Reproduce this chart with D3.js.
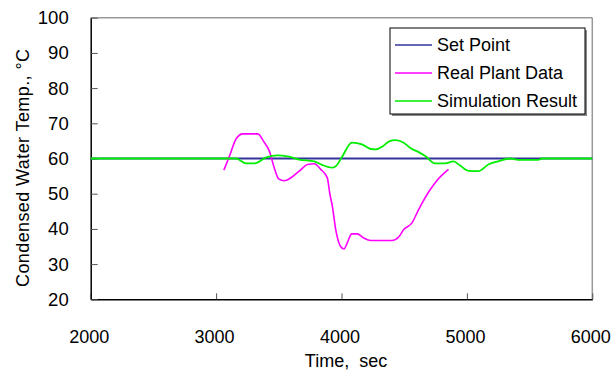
<!DOCTYPE html>
<html>
<head>
<meta charset="utf-8">
<script src="https://cdn.jsdelivr.net/npm/d3@7"></script>
<style>
  body { margin: 0; background: #fff; }
  text { font-family: "Liberation Sans", Arial, sans-serif; fill: #000; }
</style>
</head>
<body>
<svg width="612" height="370"></svg>
<script>
// data
const xTicks = [2000, 3000, 4000, 5000, 6000];
const yTicks = [20, 30, 40, 50, 60, 70, 80, 90, 100];

const seriesNames = ['Set Point', 'Real Plant Data', 'Simulation Result'];
const seriesColors = ['#333399', '#ff00ff', '#00ee00'];

const setTime = [2000, 6000];
const setTemp = [60, 60];

const plantTime = [3062, 3107, 3160, 3213, 3332, 3385, 3425, 3464, 3499, 3544, 3663, 3729, 3782, 3835, 3887,
    3906, 3927, 3954, 3993, 4020, 4046, 4081, 4125, 4178, 4232, 4403, 4456, 4496, 4562, 4615, 4708, 4760, 4853];
const plantTemp = [56.7, 60.7, 65.6, 67.0, 67.0, 64.5, 62.1, 57.3, 54.2, 53.7, 56.4, 58.3, 58.5, 56.9, 54.5,
    50.2, 46.4, 39.8, 35.0, 34.3, 36.0, 38.6, 38.6, 37.4, 36.7, 36.7, 37.7, 39.8, 41.7, 45.5, 51.2, 53.7, 56.9];

const simTime = [2000, 3100, 3160, 3240, 3305, 3400, 3488, 3580, 3663, 3782, 3845, 3925, 3960, 4005, 4083, 4163,
    4233, 4275, 4330, 4377, 4430, 4496, 4552, 4615, 4668, 4748, 4827, 4893, 4946, 5012, 5091, 5171, 5250,
    5343, 5409, 5567, 5600, 6000];
const simTemp = [60, 60, 60, 58.6, 58.6, 60.3, 60.9, 60.5, 59.7, 59.2, 58.2, 57.4, 58.0, 60.5, 64.5, 64.0,
    62.7, 62.6, 63.5, 64.8, 65.2, 64.5, 62.9, 61.8, 60.7, 58.6, 58.6, 59.2, 58.0, 56.5, 56.4, 58.3, 59.2,
    60.0, 59.6, 59.6, 60, 60];

const svg = d3.select('svg');
const pLeft = 90.7, pRight = 592.3, pTop = 17.7, pBottom = 299.3;

const x = d3.scaleLinear().domain([2000, 6000]).range([pLeft, pRight]);
const y = d3.scaleLinear().domain([20, 100]).range([pBottom, pTop]);

// frame: top/right grey, left/bottom black
svg.append('line').attr('x1', pLeft).attr('x2', pRight).attr('y1', pTop).attr('y2', pTop)
    .attr('stroke', '#999').attr('stroke-width', 1.5);
svg.append('line').attr('x1', pRight).attr('x2', pRight).attr('y1', pTop).attr('y2', pBottom)
    .attr('stroke', '#999').attr('stroke-width', 1.5);

const xAxis = svg.append('g').attr('transform', `translate(0,${pBottom})`)
    .call(d3.axisBottom(x).tickValues(xTicks).tickSizeInner(-6).tickSizeOuter(0).tickFormat(d3.format('d')));
xAxis.select('.domain').attr('stroke', '#000').attr('stroke-width', 1.5);
xAxis.selectAll('.tick line').attr('stroke', '#555');
xAxis.selectAll('.tick text').attr('y', 31).attr('dx', -2).style('font-size', '18px');

const yAxis = svg.append('g').attr('transform', `translate(${pLeft},0)`)
    .call(d3.axisLeft(y).tickValues(yTicks).tickSizeInner(-7).tickSizeOuter(0));
yAxis.select('.domain').attr('stroke', '#000').attr('stroke-width', 1.5);
yAxis.selectAll('.tick line').attr('stroke', '#555');
yAxis.selectAll('.tick text').attr('x', -22).style('font-size', '18.5px');
svg.selectAll('.tick text').style('font-family', '"Liberation Sans", Arial, sans-serif');

// axis titles
svg.append('text').attr('x', 346).attr('y', 367).attr('text-anchor', 'middle')
    .style('font-size', '18px').style('word-spacing', '5px').text('Time, sec');
svg.append('text').attr('transform', 'translate(29,168) rotate(-90)').attr('text-anchor', 'middle')
    .attr('textLength', 238).attr('lengthAdjust', 'spacing')
    .style('font-size', '18px').text('Condensed Water Temp., °C');

const line = d3.line().x(d => x(d[0])).y(d => y(d[1])).curve(d3.curveMonotoneX);

const series = [
    d3.zip(setTime, setTemp),
    d3.zip(plantTime, plantTemp),
    d3.zip(simTime, simTemp)
];
const widths = [2, 1.6, 1.8];

svg.selectAll('path.series').data(series).join('path')
    .attr('class', 'series')
    .attr('d', line)
    .attr('fill', 'none')
    .attr('stroke', (d, i) => seriesColors[i])
    .attr('stroke-width', (d, i) => widths[i]);

// legend
const lg = svg.append('g');
lg.append('rect').attr('x', 392).attr('y', 30).attr('width', 195).attr('height', 86).attr('fill', '#888');
lg.append('rect').attr('x', 390).attr('y', 28).attr('width', 195).attr('height', 86)
    .attr('fill', '#fff').attr('stroke', '#000').attr('stroke-width', 1);
const rows = lg.selectAll('g.row').data(seriesNames).join('g')
    .attr('class', 'row')
    .attr('transform', (d, i) => `translate(0,${45 + i * 28})`);
rows.append('line').attr('x1', 395).attr('x2', 432)
    .attr('stroke', (d, i) => seriesColors[i]).attr('stroke-width', 1.5);
rows.append('text').attr('x', 437).attr('dy', '0.35em').style('font-size', '18px').text(d => d);
</script>
</body>
</html>
